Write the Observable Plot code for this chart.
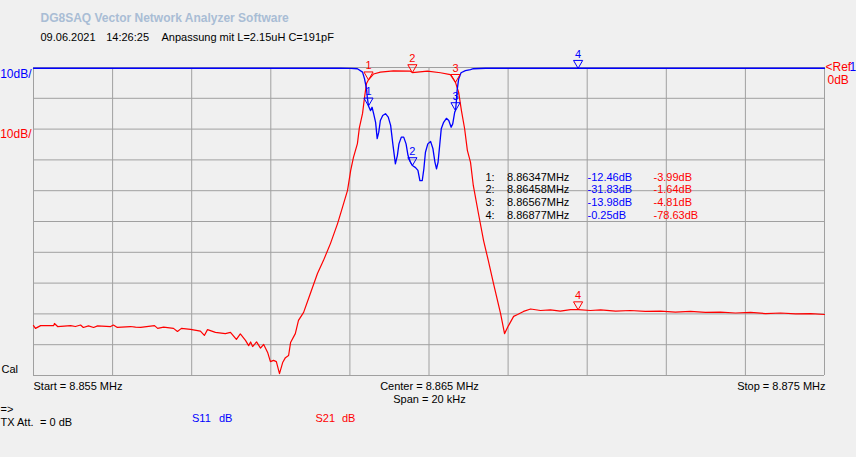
<!DOCTYPE html>
<html><head><meta charset="utf-8">
<script src="https://cdn.jsdelivr.net/npm/d3@7"></script>
<script src="https://cdn.jsdelivr.net/npm/@observablehq/plot@0.6"></script>
<style>html,body{margin:0;padding:0;background:#f0f0f0;overflow:hidden}</style>
</head><body><div id="chart"></div>
<script>
// ---- data ----
const s21Freq = [8.85500, 8.85505, 8.85518, 8.85551, 8.85553, 8.85561, 8.85594, 8.85606, 8.85619, 8.85626,
  8.85639, 8.85652, 8.85662, 8.85695, 8.85702, 8.85712, 8.85745, 8.85758, 8.85771, 8.85806,
  8.85814, 8.85829, 8.85854, 8.85864, 8.85874, 8.85897, 8.85922, 8.85932, 8.85940, 8.85960,
  8.85985, 8.85998, 8.86013, 8.86023, 8.86036, 8.86044, 8.86049, 8.86054, 8.86064, 8.86074,
  8.86082, 8.86092, 8.86099, 8.86107, 8.86114, 8.86122, 8.86130, 8.86137, 8.86145, 8.86150,
  8.86162, 8.86170, 8.86183, 8.86200, 8.86218, 8.86233, 8.86251, 8.86269, 8.86281, 8.86294,
  8.86302, 8.86309, 8.86319, 8.86324, 8.86332, 8.86337, 8.86342, 8.86347, 8.86360, 8.86377,
  8.86410, 8.86453, 8.86458, 8.86496, 8.86529, 8.86554, 8.86567, 8.86575, 8.86582, 8.86590,
  8.86597, 8.86605, 8.86612, 8.86625, 8.86638, 8.86650, 8.86663, 8.86681, 8.86691, 8.86701,
  8.86714, 8.86724, 8.86739, 8.86757, 8.86782, 8.86807, 8.86832, 8.86858, 8.86878, 8.86908,
  8.86934, 8.86972, 8.87009, 8.87047, 8.87085, 8.87123, 8.87161, 8.87199, 8.87237, 8.87275,
  8.87313, 8.87351, 8.87389, 8.87427, 8.87465, 8.87500];
const s21Db = [-83.8, -84.7, -83.8, -83.8, -83.1, -84.1, -83.8, -84.1, -83.6, -84.4,
  -83.9, -84.4, -83.9, -84.1, -83.6, -84.4, -84.1, -84.3, -84.4, -83.8,
  -84.7, -84.3, -84.7, -85.7, -84.7, -85.0, -85.6, -87.0, -85.1, -86.0,
  -86.4, -86.0, -88.3, -86.5, -88.6, -90.3, -89.1, -90.6, -89.1, -91.1,
  -89.9, -92.5, -95.5, -95.1, -95.5, -99.4, -95.8, -94.2, -93.5, -89.3,
  -86.4, -82.1, -79.5, -73.4, -66.9, -62.7, -57.1, -50.6, -45.5, -39.9,
  -33.4, -29.2, -24.7, -19.5, -14.9, -9.7, -5.2, -3.99, -2.1, -1.5,
  -1.1, -1.2, -1.64, -1.2, -1.7, -2.3, -4.81, -8.1, -14.0, -19.8,
  -26.9, -30.8, -38.3, -47.4, -56.2, -62.7, -70.1, -79.9, -86.4, -83.8,
  -80.8, -80.2, -79.2, -78.4, -78.9, -78.7, -79.1, -78.6, -78.63, -78.9,
  -78.7, -79.1, -78.9, -79.2, -79.1, -79.4, -79.2, -79.5, -79.4, -79.7,
  -79.5, -79.9, -79.7, -80.0, -79.9, -80.2];

const s11Freq = [8.85500, 8.86276, 8.86302, 8.86319, 8.86332, 8.86337, 8.86342, 8.86344, 8.86347, 8.86352,
  8.86356, 8.86360, 8.86365, 8.86369, 8.86373, 8.86377, 8.86383, 8.86390, 8.86397, 8.86403,
  8.86409, 8.86415, 8.86420, 8.86424, 8.86430, 8.86436, 8.86442, 8.86447, 8.86453, 8.86458,
  8.86466, 8.86472, 8.86477, 8.86483, 8.86487, 8.86491, 8.86497, 8.86504, 8.86510, 8.86515,
  8.86519, 8.86523, 8.86527, 8.86531, 8.86537, 8.86544, 8.86550, 8.86556, 8.86560, 8.86565,
  8.86567, 8.86569, 8.86571, 8.86575, 8.86581, 8.86592, 8.86605, 8.86612, 8.86643, 8.87500];
const s11Db = [-0.25, -0.25, -0.3, -0.4, -1.5, -3.7, -6.9, -9.7, -12.46, -14.0,
  -12.9, -15.0, -17.8, -23.1, -21.0, -17.2, -15.6, -15.0, -16.1, -18.8,
  -25.3, -31.3, -28.6, -24.8, -22.6, -22.6, -24.8, -28.6, -30.7, -31.83,
  -32.5, -33.4, -36.7, -36.7, -32.9, -27.5, -24.8, -24.0, -26.4, -30.7,
  -32.9, -30.7, -25.3, -19.9, -17.8, -16.5, -17.2, -19.4, -18.3, -14.5,
  -13.98, -11.3, -7.5, -3.7, -1.7, -1.0, -0.7, -0.4, -0.25, -0.25];

const markerNo = [1, 2, 3, 4];
const markerFreq = [8.86347, 8.86458, 8.86567, 8.86877];
const markerS11 = [-12.46, -31.83, -13.98, -0.25];
const markerS21 = [-3.99, -1.64, -4.81, -78.63];

const freqGrid = [8.855, 8.857, 8.859, 8.861, 8.863, 8.865, 8.867, 8.869, 8.871, 8.873, 8.875];
const dbGrid = [0, -10, -20, -30, -40, -50, -60, -70, -80, -90, -100];

const titleText = "DG8SAQ Vector Network Analyzer Software";
const dateText = "09.06.2021";
const timeText = "14:26:25";
const noteText = "Anpassung mit L=2.15uH C=191pF";
const scaleText = "10dB/";
const refText = "<Ref";
const refNoText = "1";
const refValText = "0dB";
const startText = "Start = 8.855 MHz";
const centerText = "Center = 8.865 MHz";
const spanText = "Span = 20 kHz";
const stopText = "Stop = 8.875 MHz";

// ---- chart ----
const W = 856, H = 457, ML = 33, MR = 32, MT = 67, MB = 82;
const FONT = "'Liberation Sans', Arial, sans-serif";
const RED = "#ff0000", BLUE = "#0000ff", GRID = "#a0a0a0";

const s21 = s21Freq.map((f, i) => ({f, db: s21Db[i]}));
const s11 = s11Freq.map((f, i) => ({f, db: s11Db[i]}));
const markers = markerNo.map((n, i) => ({n, f: markerFreq[i], s11: markerS11[i], s21: markerS21[i]}));

// text placed relative to the frame's top-left corner; py is baseline
const label = (txt, px, py, opts = {}) => Plot.text([txt], {
  frameAnchor: "top-left", dx: px - ML, dy: py - MT, text: d => d,
  textAnchor: "start", lineAnchor: "bottom", fontSize: 11, fill: "black",
  fontFamily: FONT, ...opts
});

const tableMarks = markers.flatMap((m, i) => {
  const py = 180 + i * 12.75;
  return [
    label(m.n + ":", 485, py),
    label(m.f.toFixed(5) + "MHz", 506.5, py),
    label(m.s11.toFixed(2) + "dB", 587, py, {fill: BLUE}),
    label(m.s21.toFixed(2) + "dB", 653, py, {fill: RED})
  ];
});

const markerMarks = (key, color) => [
  Plot.dot(markers, {x: "f", y: key, symbol: "triangle", rotate: 180, r: 3.4,
    stroke: color, fill: "none", strokeWidth: 1, dy: -5.2}),
  Plot.text(markers, {x: "f", y: key, text: d => String(d.n), fill: color,
    fontSize: 11, fontFamily: FONT, lineAnchor: "bottom", dy: -10.5})
];

const chart = Plot.plot({
  width: W, height: H,
  marginLeft: ML, marginRight: MR, marginTop: MT, marginBottom: MB,
  x: {domain: [8.855, 8.875], axis: null},
  y: {domain: [-100, 0], axis: null},
  style: {background: "#f0f0f0", fontFamily: FONT, overflow: "visible"},
  marks: [
    Plot.ruleX(freqGrid, {stroke: GRID, strokeWidth: 1}),
    Plot.ruleY(dbGrid, {stroke: GRID, strokeWidth: 1}),
    Plot.line(s21, {x: "f", y: "db", stroke: RED, strokeWidth: 1.2}),
    Plot.line(s11, {x: "f", y: "db", stroke: BLUE, strokeWidth: 1.3}),
    ...markerMarks("s21", RED),
    ...markerMarks("s11", BLUE),
    label(titleText, 40, 21, {fontWeight: "bold", fill: "#a9bdd5", fontSize: 12}),
    label(dateText, 40, 40.5),
    label(timeText, 105.7, 40.5),
    label(noteText, 161, 40.5),
    label(scaleText, 31, 77, {fill: BLUE, textAnchor: "end", fontSize: 12}),
    label(scaleText, 31, 137, {fill: RED, textAnchor: "end", fontSize: 12}),
    label(refText, 825, 70.5, {fill: RED, fontSize: 12}),
    label(refNoText, 849, 70.5, {fill: BLUE, fontSize: 12}),
    label(refValText, 827, 83.5, {fill: RED, fontSize: 12}),
    label("Cal", 1, 372.5),
    label(startText, 33, 389),
    label(centerText, 429, 389, {textAnchor: "middle"}),
    label(spanText, 429, 402, {textAnchor: "middle"}),
    label(stopText, 825, 389, {textAnchor: "end"}),
    label("=>", 0, 412),
    label("TX Att.", 0, 425),
    label("= 0 dB", 39.5, 425),
    label("S11", 191.5, 421.5, {fill: BLUE}),
    label("dB", 218.5, 421.5, {fill: BLUE}),
    label("S21", 315, 421.5, {fill: RED}),
    label("dB", 341.5, 421.5, {fill: RED}),
    ...tableMarks
  ]
});
document.getElementById("chart").appendChild(chart);
</script>
</body></html>
